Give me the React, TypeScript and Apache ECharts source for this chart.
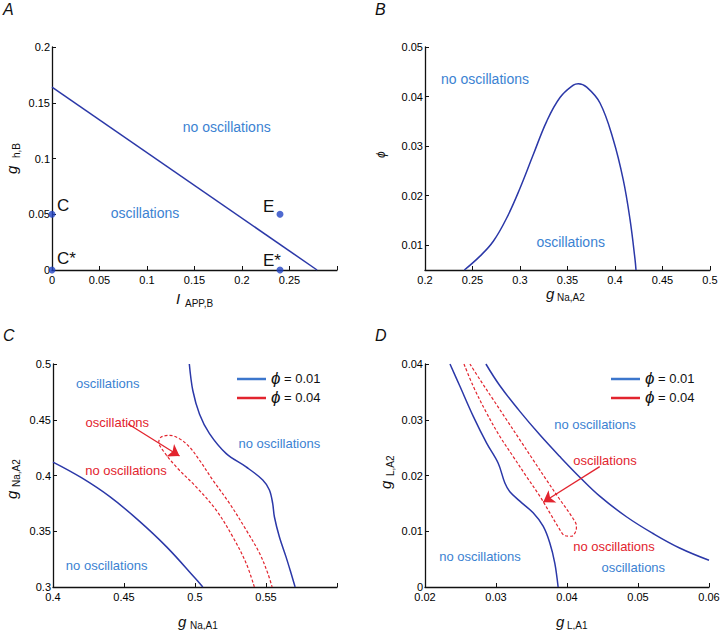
import React, { useEffect, useRef } from "react";
import * as echarts from "echarts";

const FONT = "'Liberation Sans', Arial, Helvetica, sans-serif";
const CURVE_BLUE = "#2b38a8";
const TEXT_BLUE = "#3b82d2";
const LEG_BLUE = "#3c76cc";
const RED = "#e2242e";
const DOT_BLUE = "#2345c4";
const AXIS = "#111";

// Panel A
const aBoundaryX = [0, 0.279];
const aBoundaryY = [0.164, 0];
const aPointX = [0, 0, 0.24, 0.24];
const aPointY = [0.05, 0, 0.05, 0];
const aXTicks = [0, 0.05, 0.1, 0.15, 0.2, 0.25, 0.3];
const aXLabels = [0, 0.05, 0.1, 0.15, 0.2, 0.25];
const aYTicks = [0, 0.05, 0.1, 0.15, 0.2];

// Panel B
const bX = [0.2414, 0.2579, 0.2719, 0.286, 0.3, 0.314, 0.3281, 0.3421, 0.3561, 0.3614, 0.3702, 0.3842, 0.3982, 0.4087, 0.4158, 0.4211, 0.4221];
const bY = [0.005, 0.0078, 0.0108, 0.0155, 0.0215, 0.0283, 0.035, 0.0398, 0.0423, 0.0426, 0.0419, 0.0387, 0.0313, 0.0232, 0.0152, 0.0071, 0.005];
const bXTicks = [0.2, 0.25, 0.3, 0.35, 0.4, 0.45, 0.5];
const bYTicks = [0.01, 0.02, 0.03, 0.04, 0.05];

// Panel C
const cBlueLeftX = [0.4, 0.42, 0.44, 0.46, 0.48, 0.5, 0.5055];
const cBlueLeftY = [0.412, 0.398, 0.381, 0.36, 0.336, 0.308, 0.3];
const cBlueRightX = [0.496, 0.4985, 0.5032, 0.5102, 0.522, 0.536, 0.5477, 0.5524, 0.5547, 0.5559, 0.5594, 0.5641, 0.5676, 0.5705];
const cBlueRightY = [0.5, 0.476, 0.455, 0.4375, 0.4196, 0.4077, 0.396, 0.387, 0.375, 0.363, 0.345, 0.327, 0.3125, 0.3];
const cRedX = [0.5418, 0.536, 0.5266, 0.5149, 0.5008, 0.4868, 0.4774, 0.4745, 0.4762, 0.4821, 0.4891, 0.4961, 0.5032, 0.5125, 0.5243, 0.536, 0.5454, 0.5512, 0.5543];
const cRedY = [0.3, 0.3214, 0.345, 0.369, 0.3898, 0.4077, 0.4226, 0.43, 0.4345, 0.436, 0.433, 0.4256, 0.4137, 0.396, 0.375, 0.3512, 0.3304, 0.3125, 0.3];
const cArrow = [[0.4527, 0.4464], [0.4891, 0.4175]];
const cXTicks = [0.4, 0.45, 0.5, 0.55, 0.6];
const cXLabels = [0.4, 0.45, 0.5, 0.55];
const cYTicks = [0.3, 0.35, 0.4, 0.45, 0.5];

// Panel D
const dBlueLeftX = [0.02352, 0.02492, 0.0268, 0.02868, 0.03031, 0.03125, 0.03195, 0.03336, 0.03523, 0.03664, 0.03758, 0.03828, 0.03875];
const dBlueLeftY = [0.04, 0.036, 0.0306, 0.0258, 0.0222, 0.01865, 0.0171, 0.0154, 0.0133, 0.0109, 0.0079, 0.0043, 0];
const dBlueRightX = [0.02858, 0.03055, 0.03336, 0.03617, 0.03899, 0.0418, 0.04461, 0.04837, 0.05211, 0.05586, 0.06];
const dBlueRightY = [0.04, 0.0361, 0.0315, 0.0273, 0.0234, 0.0197, 0.0163, 0.0126, 0.0096, 0.007, 0.0048];
const dRedX = [0.02549, 0.0268, 0.02868, 0.03055, 0.03242, 0.0343, 0.03617, 0.03758, 0.03899, 0.03969, 0.04063, 0.04124, 0.04133, 0.04063, 0.03899, 0.03711, 0.03523, 0.03336, 0.03149, 0.02961, 0.02774, 0.02633];
const dRedY = [0.04, 0.036, 0.0312, 0.027, 0.0234, 0.0198, 0.0163, 0.0133, 0.0103, 0.0092, 0.0091, 0.01, 0.0109, 0.0127, 0.0157, 0.0192, 0.0228, 0.0264, 0.03, 0.0336, 0.0372, 0.04];
const dArrow = [[0.04461, 0.0216], [0.03664, 0.0152]];
const dXTicks = [0.02, 0.03, 0.04, 0.05, 0.06];
const dYTicks = [0, 0.01, 0.02, 0.03, 0.04];

const zip = (xs: number[], ys: number[]) => xs.map((x, i) => [x, ys[i]]);
const fmt = (v: number) => String(+Number(v).toFixed(4));

function makeAxis(grid: number, min: number, max: number, ticks: number[], labels: number[], isX: boolean) {
  return {
    type: "value",
    gridIndex: grid,
    min,
    max,
    axisLine: { show: true, onZero: false, lineStyle: { color: AXIS, width: 1.3 } },
    axisTick: { show: true, inside: true, length: 4, customValues: ticks, lineStyle: { color: AXIS, width: 1 } },
    axisLabel: {
      show: true,
      customValues: labels,
      formatter: (v: number) => fmt(v),
      fontSize: 11,
      color: "#000",
      fontFamily: FONT,
      margin: isX ? 4 : 2,
    },
    splitLine: { show: false },
  };
}

function lineSeries(name: string, grid: number, data: number[][], color: string, dashed = false, smooth: number | boolean = 0.35) {
  return {
    type: "line",
    name,
    xAxisIndex: grid,
    yAxisIndex: grid,
    data,
    showSymbol: false,
    symbol: "none",
    smooth,
    silent: true,
    lineStyle: dashed
      ? { color, width: 1.2, type: [3, 2] }
      : { color, width: 1.5 },
    itemStyle: { color },
    z: 3,
  };
}

function arrowSeries(grid: number, coords: number[][]) {
  return {
    type: "lines",
    coordinateSystem: "cartesian2d",
    xAxisIndex: grid,
    yAxisIndex: grid,
    symbol: ["none", "arrow"],
    symbolSize: 11,
    silent: true,
    lineStyle: { color: RED, width: 1.3, opacity: 1, curveness: 0 },
    data: [{ coords }],
    z: 4,
  };
}

function txt(x: number, y: number, text: string, fill: string, fontSize = 13, align = "center") {
  return {
    type: "text",
    x,
    y,
    silent: true,
    style: {
      text,
      fill,
      fontSize,
      fontFamily: FONT,
      textAlign: align,
      verticalAlign: "middle",
      textVerticalAlign: "middle",
    },
  };
}

function title(x: number, y: number, main: string, sub: string, subDx: number, subDy: number, rotated: boolean, mainSize = 15) {
  const children: any[] = [
    {
      type: "text",
      style: {
        text: main, x: 0, y: 0, fill: "#111", fontSize: mainSize, fontStyle: "italic", fontFamily: FONT,
        textAlign: "left", verticalAlign: "middle", textVerticalAlign: "middle",
      },
    },
  ];
  if (sub) {
    children.push({
      type: "text",
      style: {
        text: sub, x: subDx, y: subDy, fill: "#111", fontSize: 10, fontFamily: FONT,
        textAlign: "left", verticalAlign: "middle", textVerticalAlign: "middle",
      },
    });
  }
  return { type: "group", x, y, rotation: rotated ? Math.PI / 2 : 0, silent: true, children };
}

function panelLabel(x: number, y: number, t: string) {
  return {
    type: "text",
    x,
    y,
    silent: true,
    style: { text: t, fill: "#111", fontSize: 16, fontStyle: "italic", fontFamily: FONT, textAlign: "left", verticalAlign: "top", textVerticalAlign: "top" },
  };
}

function legendItem(x: number, y: number, color: string, label: string) {
  return [
    { type: "line", silent: true, shape: { x1: x, y1: y, x2: x + 29, y2: y }, style: { stroke: color, lineWidth: 2.5 } },
    {
      type: "text",
      x: x + 34,
      y: y - 1,
      silent: true,
      style: {
        text: "{p|ϕ} = " + label,
        fill: "#111",
        fontSize: 13,
        fontFamily: FONT,
        textAlign: "left",
        verticalAlign: "middle",
        textVerticalAlign: "middle",
        rich: { p: { fontStyle: "italic", fontSize: 17, fontFamily: FONT, fill: "#111" } },
      },
    },
  ];
}

export default function App() {
  const ref = useRef<HTMLDivElement>(null);
  useEffect(() => {
    if (!ref.current) return;
    const chart = echarts.init(ref.current, null, { renderer: "svg" });
    const option: any = {
      animation: false,
      backgroundColor: "#ffffff",
      grid: [
        { left: 52, top: 47, width: 285, height: 223, outerBoundsMode: "none", containLabel: false },
        { left: 425, top: 47, width: 285, height: 223, outerBoundsMode: "none", containLabel: false },
        { left: 53, top: 364, width: 284, height: 223, outerBoundsMode: "none", containLabel: false },
        { left: 425, top: 364, width: 284, height: 223, outerBoundsMode: "none", containLabel: false },
      ],
      xAxis: [
        makeAxis(0, 0, 0.3, aXTicks, aXLabels, true),
        makeAxis(1, 0.2, 0.5, bXTicks, bXTicks, true),
        makeAxis(2, 0.4, 0.6, cXTicks, cXLabels, true),
        makeAxis(3, 0.02, 0.06, dXTicks, dXTicks, true),
      ],
      yAxis: [
        makeAxis(0, 0, 0.2, aYTicks, aYTicks, false),
        makeAxis(1, 0.005, 0.05, bYTicks, bYTicks, false),
        makeAxis(2, 0.3, 0.5, cYTicks, cYTicks, false),
        makeAxis(3, 0, 0.04, dYTicks, dYTicks, false),
      ],
      series: [
        lineSeries("A boundary", 0, zip(aBoundaryX, aBoundaryY), CURVE_BLUE, false, false),
        {
          type: "scatter",
          name: "A points",
          xAxisIndex: 0,
          yAxisIndex: 0,
          data: zip(aPointX, aPointY),
          symbolSize: 7,
          clip: false,
          silent: true,
          itemStyle: { color: DOT_BLUE },
          z: 5,
        },
        lineSeries("B boundary", 1, zip(bX, bY), CURVE_BLUE, false, 0.4),
        lineSeries("ϕ = 0.01", 2, zip(cBlueLeftX, cBlueLeftY), CURVE_BLUE, false, 0.4),
        lineSeries("ϕ = 0.01", 2, zip(cBlueRightX, cBlueRightY), CURVE_BLUE),
        lineSeries("ϕ = 0.04", 2, zip(cRedX, cRedY), RED, true),
        arrowSeries(2, cArrow),
        lineSeries("ϕ = 0.01", 3, zip(dBlueLeftX, dBlueLeftY), CURVE_BLUE),
        lineSeries("ϕ = 0.01", 3, zip(dBlueRightX, dBlueRightY), CURVE_BLUE, false, 0.4),
        lineSeries("ϕ = 0.04", 3, zip(dRedX, dRedY), RED, true),
        arrowSeries(3, dArrow),
      ],
      graphic: [
        panelLabel(3, 1, "A"),
        panelLabel(375, 1, "B"),
        panelLabel(3, 327, "C"),
        panelLabel(375, 327, "D"),
        // panel A annotations
        txt(226.7, 126.7, "no oscillations", TEXT_BLUE, 14),
        txt(145, 212.7, "oscillations", TEXT_BLUE, 14),
        txt(57, 205, "C", "#111", 17, "left"),
        txt(57, 258, "C*", "#111", 17, "left"),
        txt(263, 206, "E", "#111", 17, "left"),
        txt(263, 260, "E*", "#111", 17, "left"),
        // panel B annotations
        txt(485, 79.3, "no oscillations", TEXT_BLUE, 14),
        txt(570.7, 241.7, "oscillations", TEXT_BLUE, 14),
        // panel C annotations
        txt(107.7, 383.3, "oscillations", TEXT_BLUE, 13),
        txt(117.3, 422.3, "oscillations", RED, 13),
        txt(126, 470, "no oscillations", RED, 13),
        txt(279.3, 443.3, "no oscillations", TEXT_BLUE, 13),
        txt(106.7, 565.7, "no oscillations", TEXT_BLUE, 13),
        ...legendItem(237, 379, LEG_BLUE, "0.01"),
        ...legendItem(237, 398, RED, "0.04"),
        // panel D annotations
        txt(595, 424, "no oscillations", TEXT_BLUE, 13),
        txt(605, 460.7, "oscillations", RED, 13),
        txt(614, 546.7, "no oscillations", RED, 13),
        txt(480, 556, "no oscillations", TEXT_BLUE, 13),
        txt(633.3, 567.3, "oscillations", TEXT_BLUE, 13),
        ...legendItem(611, 379, LEG_BLUE, "0.01"),
        ...legendItem(611, 398, RED, "0.04"),
        // axis titles
        title(176, 298, "I", "APP,B", 9, 5, false),
        title(11, 174, "g", "h,B", 16, 5, true),
        title(546, 293, "g", "Na,A2", 11, 4, false),
        title(381, 158, "ϕ", "", 0, 0, true, 12),
        title(178, 621, "g", "Na,A1", 12, 4, false),
        title(11, 499, "g", "Na,A2", 12, 5, true),
        title(556, 621, "g", "L,A1", 11, 4, false),
        title(385, 489, "g", "L,A2", 13, 5, true),
      ],
    };
    chart.setOption(option);
    return () => chart.dispose();
  }, []);
  return (
    <div
      ref={ref}
      style={{ position: "fixed", left: 0, top: 0, width: 720, height: 630, background: "#fff" }}
    />
  );
}
